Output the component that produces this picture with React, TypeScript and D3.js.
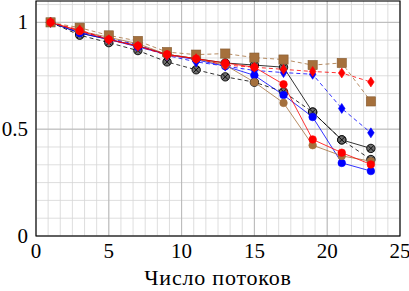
import React from "react";
import * as d3 from "d3";

const threads = [1, 3, 5, 7, 9, 11, 13, 15, 17, 19, 21, 23];
const blackSolid = [1, 0.95, 0.92, 0.89, 0.85, 0.83, 0.81, 0.8, 0.79, 0.58, 0.45, 0.41];
const blackDashed = [1, 0.94, 0.905, 0.868, 0.815, 0.778, 0.745, 0.72, 0.675, 0.58, 0.45, 0.358];
const blueSolid = [1, 0.95, 0.92, 0.885, 0.85, 0.825, 0.795, 0.752, 0.66, 0.557, 0.342, 0.304];
const blueDashed = [1, 0.955, 0.925, 0.895, 0.845, 0.815, 0.795, 0.775, 0.765, 0.757, 0.597, 0.483];
const redSolid = [1, 0.96, 0.92, 0.89, 0.85, 0.83, 0.81, 0.79, 0.71, 0.452, 0.39, 0.335];
const redDashed = [1, 0.965, 0.919, 0.888, 0.846, 0.83, 0.8, 0.79, 0.78, 0.77, 0.763, 0.721];
const brownSolid = [1, 0.96, 0.93, 0.9, 0.85, 0.83, 0.8, 0.72, 0.623, 0.425, 0.375, 0.35];
const brownDashed = [1, 0.975, 0.939, 0.913, 0.861, 0.849, 0.854, 0.835, 0.826, 0.8, 0.81, 0.63];

const xTicks = [0, 5, 10, 15, 20, 25];
const yTicks = [0, 0.5, 1];
const yTickLabels = ["0", "0.5", "1"];
const xLabel = "Число потоков";

const BROWN = "#a5703c";

type Series = { vals: number[]; color: string; dashed: boolean; marker: string };
const series: Series[] = [
  { vals: blackSolid, color: "#000", dashed: false, marker: "otimes" },
  { vals: blackDashed, color: "#000", dashed: true, marker: "otimes" },
  { vals: blueSolid, color: "#0000ff", dashed: false, marker: "circle" },
  { vals: blueDashed, color: "#0000ff", dashed: true, marker: "diamond" },
  { vals: brownSolid, color: BROWN, dashed: false, marker: "circle" },
  { vals: brownDashed, color: BROWN, dashed: true, marker: "square" },
  { vals: redSolid, color: "#ff0000", dashed: false, marker: "circle" },
  { vals: redDashed, color: "#ff0000", dashed: true, marker: "diamond" },
];

const L = 36, R = 400, T = 1, B = 236;

function Marker({ kind, cx, cy, color }: { kind: string; cx: number; cy: number; color: string }) {
  if (kind === "otimes") {
    const r = 4.2;
    const d = r * 0.7071;
    return (
      <g>
        <circle cx={cx} cy={cy} r={r} fill="#6e6e6e" stroke="#000" strokeWidth={0.9} />
        <line x1={cx - d} y1={cy - d} x2={cx + d} y2={cy + d} stroke="#000" strokeWidth={0.9} />
        <line x1={cx - d} y1={cy + d} x2={cx + d} y2={cy - d} stroke="#000" strokeWidth={0.9} />
      </g>
    );
  }
  if (kind === "circle") {
    return <circle cx={cx} cy={cy} r={3.8} fill={color} stroke={color} strokeWidth={0.6} />;
  }
  if (kind === "square") {
    return <rect x={cx - 4.6} y={cy - 4.6} width={9.2} height={9.2} fill={color} stroke={d3.color(color)!.darker(0.6).toString()} strokeWidth={0.6} />;
  }
  return (
    <path
      d={`M${cx},${cy - 5} L${cx + 3.3},${cy} L${cx},${cy + 5} L${cx - 3.3},${cy} Z`}
      fill={color}
      stroke={color}
      strokeWidth={0.6}
    />
  );
}

export default function App() {
  const x = d3.scaleLinear().domain([0, 25]).range([L, R]);
  const y = d3.scaleLinear().domain([0, 1.1]).range([B, T]);

  const minorX = d3.range(0, 31).map((i) => (i * 5) / 6).filter((v) => v <= 25.001);
  const minorY = d3.range(0, 14).map((i) => (i * 0.5) / 6).filter((v) => v <= 1.1);

  const line = d3
    .line<number>()
    .x((_, i) => x(threads[i]))
    .y((d) => y(d));

  const font = "'Liberation Serif', 'DejaVu Serif', serif";

  return (
    <svg width={409} height={291} style={{ position: "absolute", left: 0, top: 0 }}>
      <rect x={0} y={0} width={409} height={291} fill="#fff" />
      {minorX.map((v, i) => (
        <line key={"mx" + i} x1={x(v)} x2={x(v)} y1={T} y2={B} stroke="#d6d6d6" strokeWidth={0.8} />
      ))}
      {minorY.map((v, i) => (
        <line key={"my" + i} x1={L} x2={R} y1={y(v)} y2={y(v)} stroke="#d6d6d6" strokeWidth={0.8} />
      ))}
      {xTicks.map((v) => (
        <line key={"gx" + v} x1={x(v)} x2={x(v)} y1={T} y2={B} stroke="#b4b4b4" strokeWidth={0.9} />
      ))}
      {yTicks.map((v) => (
        <line key={"gy" + v} x1={L} x2={R} y1={y(v)} y2={y(v)} stroke="#b4b4b4" strokeWidth={0.9} />
      ))}
      {series.map((s, si) => (
        <g key={"s" + si}>
          <path
            d={line(s.vals) || ""}
            fill="none"
            stroke={s.color}
            strokeWidth={0.8}
            strokeDasharray={s.dashed ? "4 3" : undefined}
          />
          {s.vals.map((v, i) => (
            <Marker key={i} kind={s.marker} cx={x(threads[i])} cy={y(v)} color={s.color} />
          ))}
        </g>
      ))}
      <rect x={L} y={T} width={R - L} height={B - T} fill="none" stroke="#000" strokeWidth={1.1} />
      {xTicks.map((v) => (
        <text key={"tx" + v} x={x(v)} y={258} textAnchor="middle" fontFamily={font} fontSize={21} fill="#000">
          {v}
        </text>
      ))}
      {yTicks.map((v, i) => (
        <text key={"ty" + v} x={28} y={y(v) + 7} textAnchor="end" fontFamily={font} fontSize={21} fill="#000">
          {yTickLabels[i]}
        </text>
      ))}
      <text x={(L + R) / 2} y={285} textAnchor="middle" fontFamily={font} fontSize={22} letterSpacing={0.8} fill="#000">
        {xLabel}
      </text>
    </svg>
  );
}
